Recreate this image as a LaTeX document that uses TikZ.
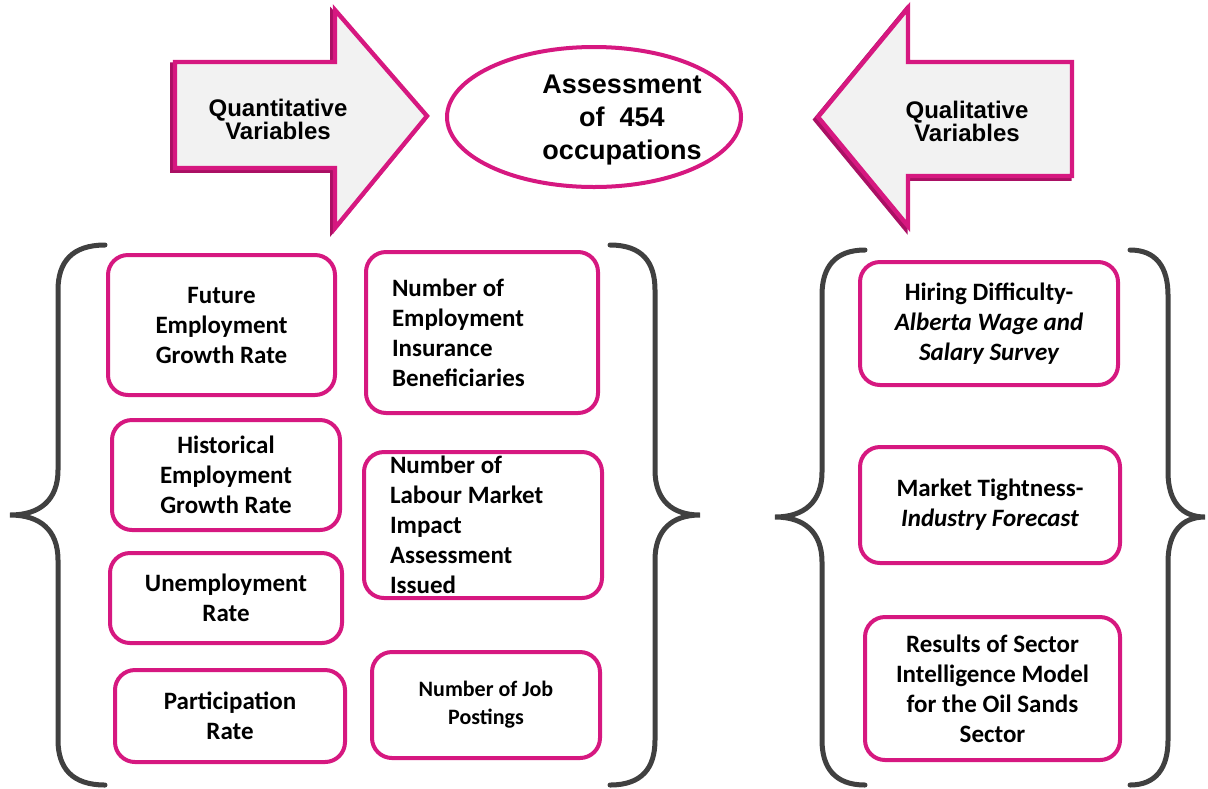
\documentclass[tikz,border=0pt]{standalone}
\usepackage{fontspec}
\setmainfont{Carlito}
\newfontfamily\arialfont{Liberation Sans}
\usetikzlibrary{shapes.geometric}
\definecolor{boxpink}{RGB}{214,24,128}
\definecolor{arrowdark}{RGB}{170,16,100}
\definecolor{bracegray}{RGB}{64,64,64}
\definecolor{arrowfill}{RGB}{242,242,242}

\begin{document}
\begin{tikzpicture}[x=0.5pt, y=-0.5pt,
box/.style = {draw=boxpink, line width=2pt, rounded corners=10pt, fill=white,
  font=\fontsize{12.5}{15}\selectfont\bfseries, align=center, inner sep=0pt},
brace/.style = {draw=bracegray, line width=2.5pt, line cap=round},
bigarrow/.style = {draw=boxpink, line width=2.2pt, fill=arrowfill, line join=miter,
  preaction={draw=arrowdark, line width=2.2pt, transform canvas={shift={(-1.3pt,-1.3pt)}}}},
arrowtext/.style = {font=\arialfont\fontsize{12}{11.5}\selectfont\bfseries, align=center}]
\useasboundingbox (0,0) rectangle (1208,788);

% block arrows
\draw[bigarrow] (175,62) -- (335,62) -- (335,10) -- (427,116) -- (335,228)
    -- (335,168) -- (175,168) -- cycle;
\draw[bigarrow] (1072,62) -- (908,62) -- (908,8) -- (818,117) -- (908,226)
    -- (908,176) -- (1072,176) -- cycle;
\node[arrowtext] (quant) at (278,119) {Quantitative\\Variables};
\node[arrowtext] (qual) at (967,121) {Qualitative\\Variables};

\node[ellipse, draw=boxpink, line width=2pt, fill=white,
    minimum width=147pt, minimum height=70pt, inner sep=0pt]
    (assess) at (594,117) {};
\node[font=\arialfont\fontsize{13.5}{16.5}\selectfont\bfseries, align=center]
    (assesstext) at (622,120) {Assessment\\of~ 454\\occupations};

% braces
\draw[brace] (105,245) .. controls (72,245) and (58,262) .. (58,290) -- (58,470)
    .. controls (58,500) and (40,515) .. (10,515) .. controls (40,515) and (58,530) .. (58,560)
    -- (58,740) .. controls (58,768) and (72,785) .. (105,785);
\draw[brace] (610,245) .. controls (642,245) and (655,262) .. (655,290) -- (655,470)
    .. controls (655,500) and (672,515) .. (700,515) .. controls (672,515) and (655,530) .. (655,560)
    -- (655,740) .. controls (655,768) and (642,785) .. (610,785);
\draw[brace] (865,250) .. controls (835,250) and (822,267) .. (822,295) -- (822,472)
    .. controls (822,502) and (804,517) .. (775,517) .. controls (804,517) and (822,532) .. (822,562)
    -- (822,740) .. controls (822,768) and (835,785) .. (865,785);
\draw[brace] (1130,250) .. controls (1156,250) and (1168,267) .. (1168,295) -- (1168,472)
    .. controls (1168,502) and (1182,517) .. (1205,517) .. controls (1182,517) and (1168,532) .. (1168,562)
    -- (1168,740) .. controls (1168,768) and (1156,785) .. (1130,785);

% quantitative variables
\node[box, minimum width=113.5pt, minimum height=70pt] (future) at (221.5,325)
    {Future\\Employment\\Growth Rate};
\node[box, minimum width=114pt, minimum height=55pt] (hist) at (226,475)
    {Historical\\Employment\\Growth Rate};
\node[box, minimum width=116pt, minimum height=45pt] (unemp) at (226,598)
    {Unemployment\\Rate};
\node[box, minimum width=115pt, minimum height=46pt] (partic) at (230,716)
    {Participation\\Rate};
\node[box, align=flush left, text width=90pt, minimum width=116pt, minimum height=80.5pt] (ei) at (482,332.5)
    {Number of\\Employment\\Insurance\\Beneficiaries};
\node[box, align=flush left, text width=93pt, minimum width=119pt, minimum height=73pt] (lmia) at (483,525)
    {Number of\\Labour Market\\Impact\\Assessment\\Issued};
\node[box, minimum width=114pt, minimum height=53pt, font=\fontsize{11}{14}\selectfont\bfseries] (jobs) at (486,705)
    {Number of Job\\Postings};

% qualitative variables
\node[box, minimum width=129pt, minimum height=61.5pt] (hiring) at (989,323.5)
    {Hiring Difficulty-\\\itshape Alberta Wage and\\\itshape Salary Survey};
\node[box, minimum width=130pt, minimum height=58pt] (market) at (990,505)
    {Market Tightness-\\\itshape Industry Forecast};
\node[box, minimum width=127.5pt, minimum height=71.5pt] (sector) at (992.5,688.5)
    {Results of Sector\\Intelligence Model\\for the Oil Sands\\Sector};
\end{tikzpicture}
\end{document}
